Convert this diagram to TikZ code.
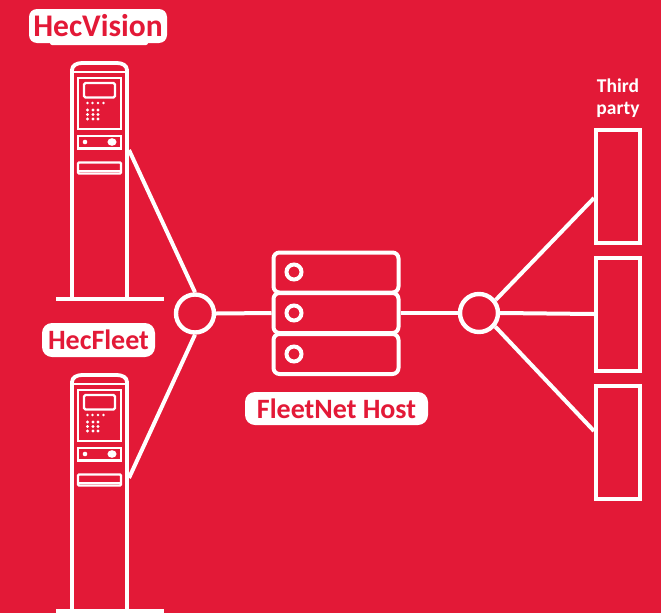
\documentclass[tikz,border=0pt]{standalone}
\usepackage{fontspec}
\setmainfont{Carlito}
\definecolor{brandred}{RGB}{227,25,55}
\tikzset{
  wire/.style={draw=white,line width=4pt},
  thin wire/.style={draw=white,line width=3pt},
  hub/.style={circle,draw=white,line width=4.4pt,minimum size=38pt,inner sep=0pt},
  rack/.style={draw=white,line width=4pt,rounded corners=6pt,minimum width=125pt,inner sep=0pt},
  led/.style={circle,draw=white,line width=4pt,minimum size=15pt,inner sep=0pt},
  party/.style={draw=white,line width=4.4pt,minimum width=43.6pt,inner sep=0pt},
  tag/.style={fill=white,rounded corners=8pt,text=brandred,font=\bfseries,inner sep=0pt,anchor=center},
  headtext/.style={text=white,font=\bfseries\fontsize{19.5}{19.5}\selectfont,inner sep=0pt}
}
\newcommand{\kiosk}[2]{%
\begin{scope}[shift={(0,#1)}]
  \node[minimum width=54pt,minimum height=0pt,inner sep=0pt] (#2) at (99,150) {};
  \draw[thin wire,line width=3.8pt] (72,298) -- (72,72) -- (72,70) to[out=90,in=180] (82,63) -- (117,63) to[out=0,in=90] (127,70) -- (127,298);
  \draw[thin wire,line width=2.8pt] (71,72) -- (128,72);
  \draw[thin wire,line width=2.6pt] (78,78) rectangle (121,129);
  \draw[thin wire,line width=2.4pt,rounded corners=1.5pt] (84,83) rectangle (115,97.5);
  \foreach \x in {87.5,92.5,98,103.5} \fill[white] (\x,103) circle (1.4pt);
  \foreach \x in {87.5,93,98} \foreach \y in {110,114.5,119} \fill[white] (\x,\y) circle (1.6pt);
  \draw[thin wire,line width=2.6pt] (78,136) rectangle (121,148.5);
  \fill[white] (85,142) circle (2.3pt);
  \fill[white] (112,142) ellipse (4.6pt and 3.8pt);
  \draw[thin wire,line width=2.4pt,rounded corners=1pt] (78,162.5) rectangle (121,173.5);
  \draw[thin wire,line width=2pt] (78,170.5) -- (121,170.5);
  \draw[wire,line width=4pt] (56,298.5) -- (164,298.5);
\end{scope}}
\begin{document}
\begin{tikzpicture}[x=1pt,y=-1pt]
\useasboundingbox[fill=brandred] (0,0) rectangle (661,613);
% kiosks
\kiosk{0}{kioskA}
\kiosk{312}{kioskB}
% hubs
\node[hub] (hubL) at (195,313.5) {};
\node[hub] (hubR) at (479,313) {};
% server
\node[rack,minimum height=40pt] (rackA) at (336,272.5) {};
\node[rack,minimum height=40pt] (rackB) at (336,313) {};
\node[rack,minimum height=40pt] (rackC) at (336,354) {};
\node[led] (ledA) at (294,272) {};
\node[led] (ledB) at (294,313) {};
\node[led] (ledC) at (294,354) {};
% third party
\node[party,minimum height=112.6pt] (boxA) at (618,186.5) {};
\node[party,minimum height=112.6pt] (boxB) at (618,314.5) {};
\node[party,minimum height=112.6pt] (boxC) at (618,442.5) {};
% connector ends
\coordinate (endA) at (129,150);
\coordinate (endB) at (129,478);
\coordinate (endC) at (594,198);
\coordinate (endD) at (594,314);
\coordinate (endE) at (594,431);
% connectors
\draw[wire] (endA) -- (hubL.north);
\draw[wire] (endB) -- (hubL.south);
\draw[wire] (hubL.east) -- (rackB.west);
\draw[wire] (rackB.east) -- (hubR.west);
\draw[wire] (hubR.38) -- (endC);
\draw[wire] (hubR.east) -- (endD);
\draw[wire] (hubR.-40) -- (endE);
% labels
\fill[white,rounded corners=2pt] (50,38) rectangle (148,45);
\node[tag,minimum width=138pt,minimum height=34pt] (lblV) at (98,26) {\fontsize{31.5}{31.5}\selectfont HecVision};
\node[tag,minimum width=113pt,minimum height=34pt,rounded corners=10pt] (lblF) at (98.5,340) {\fontsize{28}{28}\selectfont HecFleet};
\node[tag,minimum width=183pt,minimum height=33pt,rounded corners=10pt] (lblH) at (336.5,408.5) {\fontsize{28}{28}\selectfont FleetNet Host};
\node[headtext,anchor=base] (third) at (618,92) {Third};
\node[headtext,anchor=base] (partyname) at (618,114) {party};
\end{tikzpicture}
\end{document}
